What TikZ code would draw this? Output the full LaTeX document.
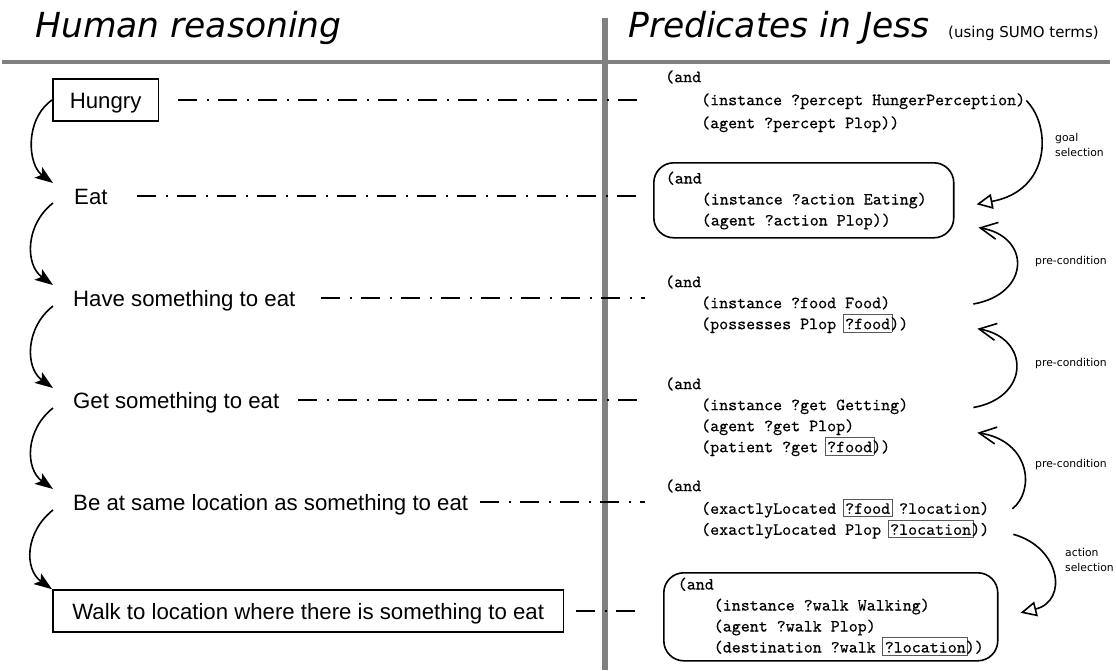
\documentclass[tikz,border=0pt]{standalone}
\usepackage{fontspec}
\setmainfont{Liberation Sans}
\newfontfamily\titlefont{DejaVu Sans}
\newfontfamily\codefont[Extension=.otf, FakeBold=0.3]{lmmono10-regular}
\newfontfamily\notefont{DejaVu Sans}
\usetikzlibrary{arrows.meta}
\definecolor{rulegray}{gray}{0.5}
\definecolor{varline}{gray}{0.35}
% frame around a variable without shifting the monospaced text
\newcommand\varbox[1]{\leavevmode\rlap{\kern-2.3pt{\color{varline}\fboxsep=1.5pt\fboxrule=0.8pt\fbox{\phantom{#1}\rule[-1pt]{0pt}{14pt}}}}#1}
\newcommand\ind{\phantom{(and}}
% extra room on the right of the widest line of a framed block
\newcommand\padr[1]{\hspace*{#1}\null}
\tikzset{
  lbl/.style={font=\fontsize{22.2}{26}\selectfont, inner sep=0pt, anchor=west, text height=16pt, text depth=0pt},
  stepbox/.style={lbl, draw, line width=1.6pt, inner xsep=17pt, inner ysep=13pt},
  link/.style={line width=1.8pt, dash pattern=on 19pt off 10pt on 2pt off 9pt},
  flow/.style={line width=1.6pt, -{Stealth[length=18pt,width=13pt,inset=4pt]}},
  code/.style={font=\codefont\fontsize{17.14}{21}\selectfont, align=left, inner sep=0pt, anchor=north west},
  goalbox/.style={code, draw, line width=1.6pt, rounded corners=20pt},
  sel/.style={line width=1.6pt, -{Triangle[open,length=16pt,width=15pt,line width=1.6pt]}},
  pre/.style={line width=1.6pt, -{Straight Barb[length=17pt,width=17pt,line width=1.6pt]}},
  note/.style={font=\notefont\fontsize{10.8}{15}\selectfont, align=left, inner sep=0pt, anchor=west},
  title/.style={font=\titlefont\itshape\fontsize{34.5}{40}\selectfont, inner sep=0pt, anchor=base west},
}
\begin{document}
\begin{tikzpicture}[x=1pt,y=-1pt]
\useasboundingbox (0,0) rectangle (1116,670);
\fill[white] (0,0) rectangle (1116,670);

% column titles and separators
\node[title] (htitle) at (35,37) {Human reasoning};
\node[title] (ptitle) at (628,37) {Predicates in Jess};
\node[font=\notefont\fontsize{15}{18}\selectfont, inner sep=0pt, anchor=base west] (sumo) at (948,37) {(using SUMO terms)};
\fill[rulegray] (2,59.5) rectangle (1110,63.5);
\fill[rulegray] (602,18) rectangle (608,670);

% human reasoning steps
\node[stepbox] (hungry) at (52,100) {Hungry};
\node[lbl] (eat) at (74,196) {Eat};
\node[lbl] (have) at (73,298) {Have something to eat};
\node[lbl] (get) at (73,400) {Get something to eat};
\node[lbl] (beat) at (73,502) {Be at same location as something to eat};
\node[stepbox, inner xsep=19.5pt] (walk) at (52,611) {Walk to location where there is something to eat};

% predicates
\node[code, font=\codefont\fontsize{17.14}{23}\selectfont] (b1) at (665,65.9)
  {\strut(and\\\ind(instance ?percept HungerPerception)\\\ind(agent ?percept Plop))\strut};
\node[goalbox, inner xsep=12pt, inner ysep=6pt] (b2) at (653,162)
  {\strut(and\\\ind(instance ?action Eating)\padr{15pt}\\\ind(agent ?action Plop))\strut};
\node[code] (b3) at (665,272.3)
  {\strut(and\\\ind(instance ?food Food)\\\ind(possesses Plop \varbox{?food}))\strut};
\node[code] (b4) at (665,374.3)
  {\strut(and\\\ind(instance ?get Getting)\\\ind(agent ?get Plop)\\\ind(patient ?get \varbox{?food}))\strut};
\node[code] (b5) at (665,476.3)
  {\strut(and\\\ind(exactlyLocated \varbox{?food} ?location)\\\ind(exactlyLocated Plop \varbox{?location}))\strut};
\node[goalbox, inner xsep=14pt, inner ysep=2pt] (b6) at (663,572)
  {\strut(and\\\ind(instance ?walk Walking)\\\ind(agent ?walk Plop)\\\ind(destination ?walk \varbox{?location}))\strut};

% correspondences
\draw[link, shorten >=20pt] ([xshift=19pt]hungry.east) -- (hungry.east -| b1.west);
\draw[link, shorten >=8pt] ([xshift=29pt]eat.east) -- (eat.east -| b2.west);
\draw[link, shorten >=20pt] ([xshift=25pt]have.east) -- (have.east -| b3.west);
\draw[link, shorten >=20pt] ([xshift=19pt]get.east) -- (get.east -| b4.west);
\draw[link, shorten >=20pt] ([xshift=12pt]beat.east) -- (beat.east -| b5.west);
\draw[link, shorten >=18pt] ([xshift=12pt]walk.east) -- (walk.east -| b6.west);

% reasoning chain
\draw[flow] (hungry.west) .. controls +(-28,20) and +(-25,-18) .. ([shift={(-21,-13)}]eat.west);
\draw[flow] ([shift={(-21,7)}]eat.west) .. controls +(-28,22) and +(-28,-20) .. ([shift={(-20,-13)}]have.west);
\draw[flow] ([shift={(-20,8)}]have.west) .. controls +(-28,22) and +(-28,-20) .. ([shift={(-20,-12)}]get.west);
\draw[flow] ([shift={(-20,8)}]get.west) .. controls +(-28,22) and +(-28,-20) .. ([shift={(-20,-13)}]beat.west);
\draw[flow] ([shift={(-20,8)}]beat.west) .. controls +(-28,22) and +(-28,-20) .. (walk.north west);

% selection and pre-condition arcs
\draw[sel] ([shift={(1,0)}]b1.east) .. controls +(25,25) and +(75,-14) .. ([shift={(22,4)}]b2.east);
\draw[pre] ([shift={(65,0)}]b3.east) .. controls +(57,-10) and +(53,9) .. ([shift={(24,-11)}]b2.south east);
\draw[pre] ([shift={(65,-9)}]b4.east) .. controls +(57,-10) and +(53,9) .. ([shift={(69,-7)}]b3.south east);
\draw[pre] ([shift={(23,0)}]b5.east) .. controls +(23,-18) and +(53,8) .. ([shift={(69,-26)}]b4.south east);
\draw[sel] ([shift={(24,-7)}]b5.south east) .. controls +(47,13) and +(48,-12) .. ([shift={(22,-4)}]b6.east);

\node[note] (lgoal) at (1055,145) {goal\\selection};
\node[note] (lpre1) at (1035,262) {pre-condition};
\node[note] (lpre2) at (1035,364) {pre-condition};
\node[note] (lpre3) at (1035,465) {pre-condition};
\node[note] (lact) at (1065,560) {action\\selection};
\end{tikzpicture}
\end{document}
